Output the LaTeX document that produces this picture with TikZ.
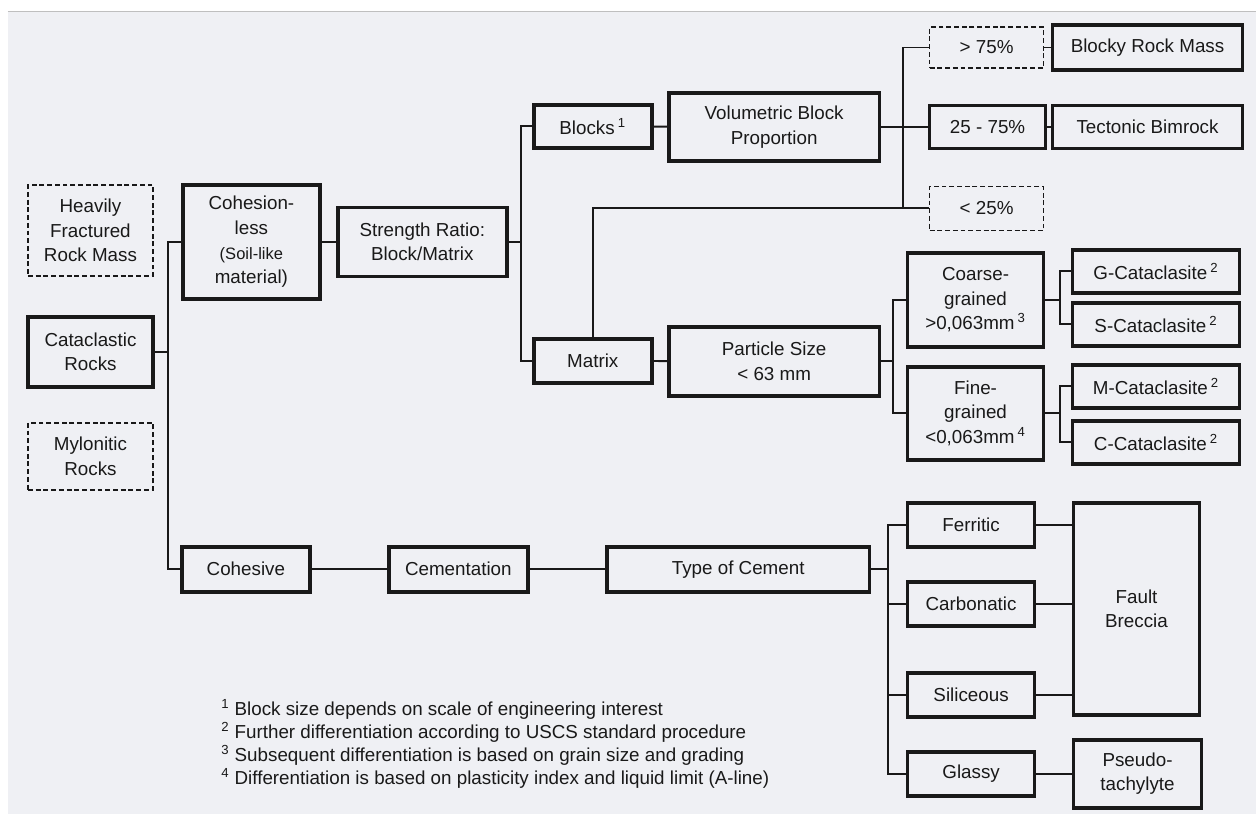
\documentclass[tikz,border=0pt]{standalone}
\usepackage{fontspec}
\setmainfont{Liberation Sans}
\usetikzlibrary{positioning, calc}

\definecolor{bgpanel}{RGB}{239,240,244}
\definecolor{ink}{RGB}{25,25,25}
\newcommand{\supnum}[1]{\,\textsuperscript{#1}}

\begin{document}
\begin{tikzpicture}[
  box/.style={rectangle, draw=ink, line width=2.1pt, align=center,
              inner sep=1pt, text=ink, font=\fontsize{10.7}{14}\selectfont},
  dashbox/.style={box, line width=0.8pt, dash pattern=on 2.8pt off 1.6pt},
  link/.style={draw=ink, line width=1.1pt},
]

% ---- background ----
\fill[white] (0,0) rectangle (25.14,-16.28);
\fill[bgpanel] (0.16,-0.23) rectangle (25.14,-16.28);
\draw[black!25, line width=0.6pt] (0.16,-0.23) -- (25.14,-0.23);

% ---- left column ----
\node[dashbox, minimum width=2.5cm, minimum height=1.82cm] (heavy) at (1.81,-4.61) {Heavily\\Fractured\\Rock Mass};
\node[box, minimum width=2.5cm, minimum height=1.4cm] (cata) at (1.81,-7.04) {Cataclastic\\Rocks};
\node[dashbox, minimum width=2.5cm, minimum height=1.34cm] (mylo) at (1.81,-9.13) {Mylonitic\\Rocks};

% ---- cohesionless branch ----
\node[box, minimum width=2.74cm, minimum height=2.28cm] (cohless) at (5.03,-4.84) {Cohesion-\\less\\\fontsize{9.4}{12.5}\selectfont(Soil-like\\material)};
\node[box, minimum width=3.38cm, minimum height=1.38cm] (ratio) at (8.45,-4.84) {Strength Ratio:\\Block/Matrix};
\node[box, minimum width=2.36cm, minimum height=0.86cm] (blocks) at (11.86,-2.53) {Blocks\supnum{1}};
\node[box, minimum width=4.22cm, minimum height=1.36cm] (vbp) at (15.49,-2.54) {Volumetric Block\\Proportion};
\node[box, minimum width=2.36cm, minimum height=0.88cm] (matrix) at (11.86,-7.22) {Matrix};
\node[box, minimum width=4.22cm, minimum height=1.38cm] (psize) at (15.49,-7.23) {Particle Size\\< 63 mm};

\node[dashbox, minimum width=2.28cm, minimum height=0.82cm] (gt75) at (19.74,-0.95) {> 75\%};
\node[box, minimum width=3.8cm, minimum height=0.9cm] (rockmass) at (22.96,-0.95) {Blocky Rock Mass};
\node[box, minimum width=2.32cm, minimum height=0.86cm] (mid75) at (19.76,-2.54) {25 - 75\%};
\node[box, minimum width=3.8cm, minimum height=0.86cm] (bimrock) at (22.96,-2.54) {Tectonic Bimrock};
\node[dashbox, minimum width=2.28cm, minimum height=0.88cm] (lt25) at (19.74,-4.17) {< 25\%};

\node[box, minimum width=2.72cm, minimum height=1.88cm] (coarse) at (19.52,-6.0) {Coarse-\\grained\\>0,063mm\supnum{3}};
\node[box, minimum width=2.72cm, minimum height=1.86cm] (fine) at (19.52,-8.27) {Fine-\\grained\\<0,063mm\supnum{4}};
\node[box, minimum width=3.34cm, minimum height=0.86cm] (gcat) at (23.13,-5.43) {G-Cataclasite\supnum{2}};
\node[box, minimum width=3.34cm, minimum height=0.86cm] (scat) at (23.13,-6.49) {S-Cataclasite\supnum{2}};
\node[box, minimum width=3.34cm, minimum height=0.86cm] (mcat) at (23.13,-7.73) {M-Cataclasite\supnum{2}};
\node[box, minimum width=3.34cm, minimum height=0.86cm] (ccat) at (23.13,-8.85) {C-Cataclasite\supnum{2}};

% ---- cohesive branch ----
\node[box, minimum width=2.56cm, minimum height=0.9cm] (cohesive) at (4.92,-11.39) {Cohesive};
\node[box, minimum width=2.78cm, minimum height=0.9cm] (cement) at (9.17,-11.39) {Cementation};
\node[box, minimum width=5.26cm, minimum height=0.9cm] (cementtype) at (14.77,-11.39) {Type of Cement};

\node[box, minimum width=2.54cm, minimum height=0.88cm] (ferritic) at (19.43,-10.5) {Ferritic};
\node[box, minimum width=2.54cm, minimum height=0.88cm] (carbonatic) at (19.43,-12.09) {Carbonatic};
\node[box, minimum width=2.54cm, minimum height=0.88cm] (siliceous) at (19.43,-13.9) {Siliceous};
\node[box, minimum width=2.54cm, minimum height=0.88cm] (glassy) at (19.43,-15.48) {Glassy};
\node[box, minimum width=2.52cm, minimum height=4.24cm] (breccia) at (22.74,-12.18) {Fault\\Breccia};
\node[box, minimum width=2.56cm, minimum height=1.36cm] (pseudo) at (22.76,-15.48) {Pseudo-\\tachylyte};

% ---- footnotes ----
\node[anchor=north west, align=left, inner sep=0pt, text=ink,
      font=\fontsize{10.7}{13}\selectfont] (notes) at (4.42,-13.99)
  {\textsuperscript{1} Block size depends on scale of engineering interest\\
   \textsuperscript{2} Further differentiation according to USCS standard procedure\\
   \textsuperscript{3} Subsequent differentiation is based on grain size and grading\\
   \textsuperscript{4} Differentiation is based on plasticity index and liquid limit (A-line)};

% ---- split points ----
\coordinate (trunk)  at (3.36,0);
\coordinate (rsplit) at (10.42,0);
\coordinate (vsplit) at (18.06,0);
\coordinate (psplit) at (17.86,0);
\coordinate (gsplit) at (21.2,0);
\coordinate (csplit) at (17.76,0);

% ---- connectors ----
\draw[link] (cata.east) -- (cata.east -| trunk);
\draw[link] (cohless.west) -- (cohless.west -| trunk) |- (cohesive.west);
\draw[link] (cohless) -- (ratio);

\draw[link] (ratio.east) -- (ratio.east -| rsplit);
\draw[link] (blocks.west) -- (blocks.west -| rsplit) |- (matrix.west);
\draw[link] (blocks) -- (vbp);
\draw[link] (matrix) -- (psize);
\draw[link] (matrix.north) |- (lt25.west);

\draw[link] (vbp.east) -- (mid75.west);
\draw[link] (gt75.west) -- (gt75.west -| vsplit) |- (lt25.west);
\draw[link] (gt75) -- (rockmass);
\draw[link] (mid75) -- (bimrock);

\draw[link] (psize.east) -- (psize.east -| psplit);
\draw[link] (coarse.west) -- (coarse.west -| psplit) |- (fine.west);
\draw[link] (coarse.east) -- (coarse.east -| gsplit);
\draw[link] (gcat.west) -- (gcat.west -| gsplit) |- (scat.west);
\draw[link] (fine.east) -- (fine.east -| gsplit);
\draw[link] (mcat.west) -- (mcat.west -| gsplit) |- (ccat.west);

\draw[link] (cohesive) -- (cement);
\draw[link] (cement) -- (cementtype);
\draw[link] (cementtype.east) -- (cementtype.east -| csplit);
\draw[link] (ferritic.west) -- (ferritic.west -| csplit) |- (glassy.west);
\foreach \n in {carbonatic, siliceous}
  \draw[link] (\n.west) -- (\n.west -| csplit);
\foreach \n in {ferritic, carbonatic, siliceous}
  \draw[link] (\n.east) -- (\n.east -| breccia.west);
\draw[link] (glassy) -- (pseudo);

\end{tikzpicture}
\end{document}
